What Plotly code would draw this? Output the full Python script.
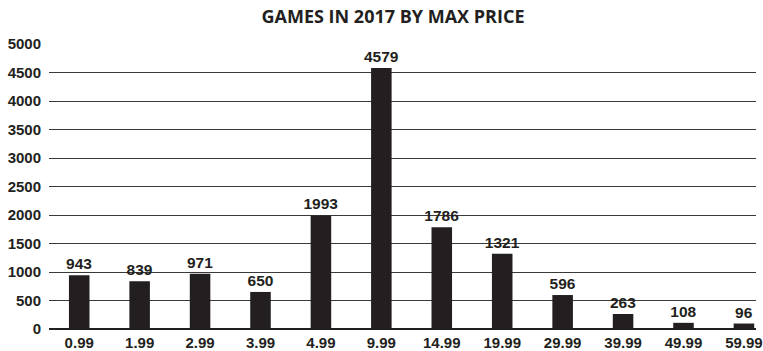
import plotly.graph_objects as go

# Maximum price points (USD) and number of games released in 2017 at each
price_labels = ["0.99", "1.99", "2.99", "3.99", "4.99", "9.99",
                "14.99", "19.99", "29.99", "39.99", "49.99", "59.99"]
game_counts = [943, 839, 971, 650, 1993, 4579, 1786, 1321, 596, 263, 108, 96]
y_ticks = [0, 500, 1000, 1500, 2000, 2500, 3000, 3500, 4000, 4500, 5000]

W, H = 763, 351
ink = "#231f20"
label_font = "Liberation Sans, Arial, sans-serif"

fig = go.Figure(
    go.Bar(
        x=list(range(len(price_labels))),
        y=game_counts,
        marker=dict(color=ink, line=dict(width=0)),
        width=0.34,
        text=[str(v) for v in game_counts],
        textposition="outside",
        constraintext="none",
        textfont=dict(family=label_font, size=15.5, color=ink, weight="bold"),
        cliponaxis=False,
        hoverinfo="skip",
    )
)

fig.update_layout(
    width=W,
    height=H,
    margin=dict(l=49, r=7, t=44, b=22, autoexpand=False),
    paper_bgcolor="white",
    plot_bgcolor="white",
    showlegend=False,
    title=dict(
        text="<b>GAMES IN 2017 BY MAX PRICE</b>",
        font=dict(family="Open Sans, sans-serif", size=18, color=ink),
        x=393 / W,
        xanchor="center",
        xref="container",
        y=1 - 17 / H,
        yanchor="middle",
        yref="container",
    ),
    xaxis=dict(
        range=[-0.5, 11.2],
        tickmode="array",
        tickvals=list(range(len(price_labels))),
        ticktext=price_labels,
        showgrid=False,
        showline=False,
        zeroline=False,
        ticks="",
        automargin=False,
        ticklabeloverflow="allow",
        ticklabelstandoff=3,
        tickfont=dict(family=label_font, size=15, color=ink, weight="bold"),
        fixedrange=True,
    ),
    yaxis=dict(
        range=[0, 5000],
        tickmode="array",
        tickvals=y_ticks,
        ticktext=[str(v) for v in y_ticks],
        showgrid=True,
        gridcolor="#3a3a3a",
        gridwidth=1,
        zeroline=True,
        zerolinecolor=ink,
        zerolinewidth=1.5,
        showline=False,
        ticks="",
        automargin=False,
        ticklabelstandoff=7,
        tickfont=dict(family=label_font, size=15, color=ink, weight="bold"),
        fixedrange=True,
    ),
)

fig.write_html("out.html")
